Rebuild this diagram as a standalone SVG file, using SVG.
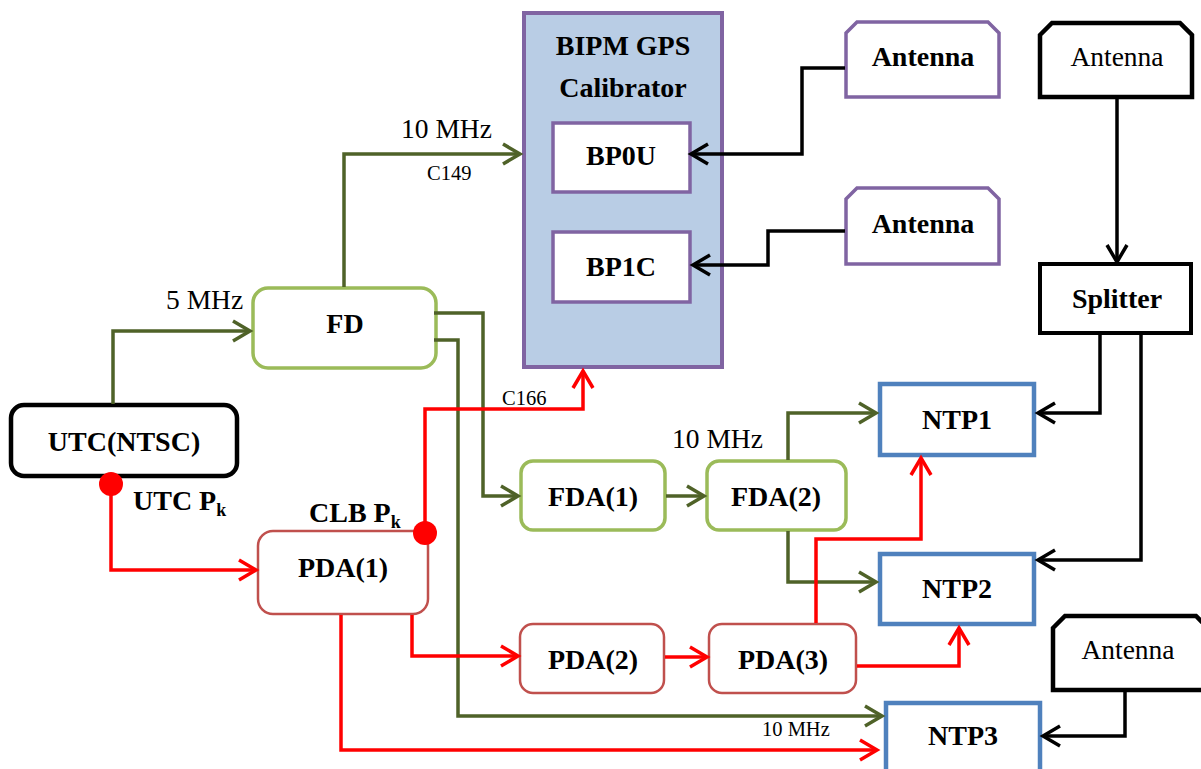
<svg xmlns="http://www.w3.org/2000/svg" width="1201" height="769" viewBox="0 0 1201 769">
<style>
.b{font-family:"Liberation Serif","Times New Roman",serif;font-weight:bold;font-size:28px;fill:#000;text-anchor:middle}
.bl{font-family:"Liberation Serif","Times New Roman",serif;font-weight:bold;font-size:28px;fill:#000;text-anchor:start}
.r{font-family:"Liberation Serif","Times New Roman",serif;font-size:27.5px;fill:#000}
.rm{font-family:"Liberation Serif","Times New Roman",serif;font-size:27.5px;fill:#000;text-anchor:middle}
.s{font-family:"Liberation Serif","Times New Roman",serif;font-size:20.5px;fill:#000}
.g{fill:none;stroke:#4F6228;stroke-width:3.5}
.rd{fill:none;stroke:#FF0000;stroke-width:3.5}
.k{fill:none;stroke:#000;stroke-width:3.5}
.ntp{fill:#fff;stroke:#4F81BD;stroke-width:4.5}
.pda{fill:#fff;stroke:#C0504D;stroke-width:2.5}
.fda{fill:#fff;stroke:#9BBB59;stroke-width:3.5}
</style>
<defs>
<marker id="ag" markerUnits="userSpaceOnUse" markerWidth="24" markerHeight="26" viewBox="0 0 24 26" refX="19" refY="13" orient="auto"><path d="M2,3 L19,13 L2,23" fill="none" stroke="#4F6228" stroke-width="3.5"/></marker>
<marker id="ar" markerUnits="userSpaceOnUse" markerWidth="24" markerHeight="26" viewBox="0 0 24 26" refX="19" refY="13" orient="auto"><path d="M2,3 L19,13 L2,23" fill="none" stroke="#FF0000" stroke-width="3.5"/></marker>
<marker id="ak" markerUnits="userSpaceOnUse" markerWidth="24" markerHeight="26" viewBox="0 0 24 26" refX="19" refY="13" orient="auto"><path d="M2,3 L19,13 L2,23" fill="none" stroke="#000" stroke-width="3.5"/></marker>
</defs>
<rect width="1201" height="769" fill="#fff"/>

<g id="utc">
<rect x="11" y="405" width="226" height="71" rx="13" fill="#fff" stroke="#000" stroke-width="4.5"/>
<text class="b" x="124" y="451">UTC(NTSC)</text>
</g>
<g id="fd">
<rect x="253" y="288" width="183" height="80" rx="15" fill="#fff" stroke="#9BBB59" stroke-width="3.5"/>
<text class="b" x="345" y="333">FD</text>
</g>
<g id="bipm">
<rect x="524" y="13" width="198" height="354" fill="#B9CDE5" stroke="#8064A2" stroke-width="4"/>
<text class="b" x="623" y="55">BIPM GPS</text>
<text class="b" x="623" y="97">Calibrator</text>
</g>
<g id="bp0u">
<rect x="553" y="123" width="137" height="69" fill="#fff" stroke="#8064A2" stroke-width="3.5"/>
<text class="b" x="621" y="165">BP0U</text>
</g>
<g id="bp1c">
<rect x="553" y="232" width="137" height="70" fill="#fff" stroke="#8064A2" stroke-width="3.5"/>
<text class="b" x="621" y="276">BP1C</text>
</g>
<g id="antenna1">
<path d="M846,33 L857,22 H988 L999,33 V97 H846 Z" fill="#fff" stroke="#8064A2" stroke-width="3.5"/>
<text class="b" x="923" y="66">Antenna</text>
</g>
<g id="antenna2">
<path d="M846,199 L857,188 H988 L999,199 V264 H846 Z" fill="#fff" stroke="#8064A2" stroke-width="3.5"/>
<text class="b" x="923" y="233">Antenna</text>
</g>
<g id="antenna3">
<path d="M1040,35 L1052,23 H1180 L1192,35 V97 H1040 Z" fill="#fff" stroke="#000" stroke-width="4.5"/>
<text class="rm" x="1117" y="66">Antenna</text>
</g>
<g id="splitter">
<rect x="1040" y="264" width="151" height="69" fill="#fff" stroke="#000" stroke-width="4"/>
<text class="b" x="1117" y="308">Splitter</text>
</g>
<g id="ntp1">
<rect x="880" y="384" width="154" height="71" class="ntp"/>
<text class="b" x="957" y="429">NTP1</text>
</g>
<g id="ntp2">
<rect x="880" y="554" width="154" height="70" class="ntp"/>
<text class="b" x="957" y="598">NTP2</text>
</g>
<g id="ntp3">
<rect x="886" y="703" width="154" height="80" class="ntp"/>
<text class="b" x="963" y="745">NTP3</text>
</g>
<g id="antenna4">
<path d="M1053,628 L1065,616 H1196 L1208,628 V690 H1053 Z" fill="#fff" stroke="#000" stroke-width="4.5"/>
<text class="rm" x="1128" y="659">Antenna</text>
</g>
<g id="fda1">
<rect x="521" y="461" width="144" height="69" rx="12" class="fda"/>
<text class="b" x="593" y="506">FDA(1)</text>
</g>
<g id="fda2">
<rect x="707" y="461" width="139" height="69" rx="12" class="fda"/>
<text class="b" x="776" y="506">FDA(2)</text>
</g>
<g id="pda1">
<rect x="258" y="531" width="170" height="83" rx="15" class="pda"/>
<text class="b" x="343" y="577">PDA(1)</text>
</g>
<g id="pda2">
<rect x="520" y="624" width="144" height="69" rx="13" class="pda"/>
<text class="b" x="593" y="669">PDA(2)</text>
</g>
<g id="pda3">
<rect x="709" y="624" width="147" height="69" rx="13" class="pda"/>
<text class="b" x="783" y="669">PDA(3)</text>
</g>

<g id="connectors">
<path class="g" d="M113,404 V331 H250" marker-end="url(#ag)"/>
<path class="g" d="M344,287 V154 H520" marker-end="url(#ag)"/>
<path class="g" d="M434,313 H483 V496 H518" marker-end="url(#ag)"/>
<path class="g" d="M434,340 H458 V716 H882" marker-end="url(#ag)"/>
<path class="g" d="M666,496 H704" stroke-width="5" marker-end="url(#ag)"/>
<path class="g" d="M788,460 V413 H876" marker-end="url(#ag)"/>
<path class="g" d="M788,531 V582 H876" marker-end="url(#ag)"/>
<path class="rd" d="M111,484 V570 H256" marker-end="url(#ar)"/>
<path class="rd" d="M425,533 V409 H583 V371" marker-end="url(#ar)"/>
<path class="rd" d="M412,615 V656 H518" marker-end="url(#ar)"/>
<path class="rd" d="M665,657 H707" marker-end="url(#ar)"/>
<path class="rd" d="M857,666 H959 V628" marker-end="url(#ar)"/>
<path class="rd" d="M816,623 V539 H921 V458" stroke-width="2.5" marker-end="url(#ar)"/>
<path class="rd" d="M341,615 V750 H877" marker-end="url(#ar)"/>
<path class="k" d="M845,68 H802 V154 H691" marker-end="url(#ak)"/>
<path class="k" d="M845,231 H768 V265 H693" marker-end="url(#ak)"/>
<path class="k" d="M1117,98 V262" marker-end="url(#ak)"/>
<path class="k" d="M1100,333 V413 H1038" marker-end="url(#ak)"/>
<path class="k" d="M1141,333 V560 H1038" marker-end="url(#ak)"/>
<path class="k" d="M1125,691 V736 H1043" marker-end="url(#ak)"/>
<text class="r" x="401" y="138">10 MHz</text>
<text class="s" x="427" y="180">C149</text>
<text class="r" x="166" y="309">5 MHz</text>
<text class="s" x="502" y="405">C166</text>
<text class="r" x="672" y="448">10 MHz</text>
<text class="s" x="762" y="736">10 MHz</text>
</g>

<g id="utcpk">
<circle cx="111" cy="484" r="12" fill="#FF0000"/>
<text class="bl" x="133" y="510">UTC P<tspan font-size="18" dy="6">k</tspan></text>
</g>
<g id="clbpk">
<circle cx="425" cy="533" r="12" fill="#FF0000"/>
<text class="bl" x="309" y="522">CLB P<tspan font-size="18" dy="6">k</tspan></text>
</g>
</svg>
